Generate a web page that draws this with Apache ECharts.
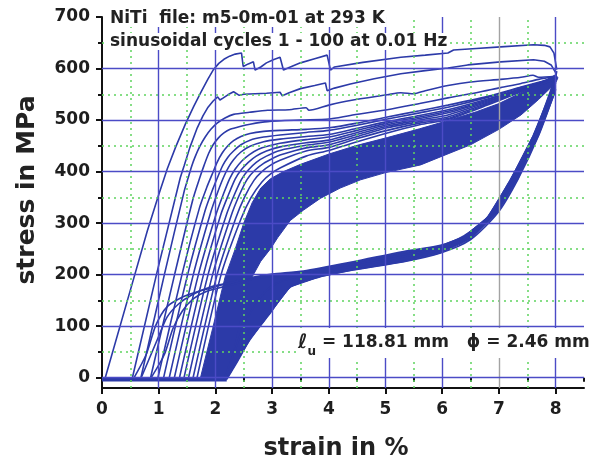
<!DOCTYPE html>
<html>
<head>
<meta charset="utf-8">
<script src="https://cdn.jsdelivr.net/npm/echarts@6/dist/echarts.min.js"></script>
<style>
  html, body { margin: 0; padding: 0; background: #fff; }
  #chart { width: 599px; height: 463px; }
</style>
</head>
<body>
<div id="chart"></div>
<script>
// Axis ticks and grid positions
const xTickValues = [0, 1, 2, 3, 4, 5, 6, 7, 8];
const xMinorTicks = [0.5, 1.5, 2.5, 3.5, 4.5, 5.5, 6.5, 7.5, 8.5];
const yTickValues = [0, 100, 200, 300, 400, 500, 600, 700];
const yMinorTicks = [50, 150, 250, 350, 450, 550, 650];
const xGridMajor = [1, 2, 3, 4, 5, 6, 7, 8];
const xGridMinor = [0.5, 1.5, 2.5, 3.5, 4.5, 5.5, 6.5, 7.5];
const yGridMajor = [0, 100, 200, 300, 400, 500, 600];
const yGridMinor = [50, 150, 250, 350, 450, 550, 650];

// Slack part of every cycle (stress ~0 while strain is low)
const slack = [[0, -4], [2.2, -4]];

// Loading branches (strain %, stress MPa), earliest cycles first
const load01 = [[0.05,-3],[0.5,170],[0.8,285],[1.0,355],[1.15,405],[1.3,448],[1.47,492],[1.62,527],[1.75,555],[1.87,580],[1.96,597],[2.06,610],[2.15,618],[2.25,624],[2.35,628],[2.46,630],[2.49,604],[2.58,609],[2.67,613],[2.7,597],[2.8,603],[2.9,611],[3.02,617],[3.14,622],[3.2,597],[3.3,602],[3.5,611],[3.75,619],[3.97,626],[4.03,597],[4.1,603],[4.6,612],[5.27,622],[5.7,626],[6.1,630],[6.2,636],[6.6,639],[7.03,642],[7.61,646],[7.8,645],[7.9,642],[7.97,630],[8.02,598]];
const load02 = [[0.53,-3],[0.96,200],[1.38,388],[1.45,412],[1.55,447],[1.68,485],[1.78,508],[1.87,525],[1.96,537],[2.04,545],[2.08,539],[2.14,543],[2.22,549],[2.32,555],[2.42,548],[2.5,550],[2.7,551],[2.9,552],[3.14,554],[3.18,547],[3.3,553],[3.5,561],[3.75,567],[3.94,572],[3.97,557],[4.1,562],[4.38,570],[4.8,580],[5.27,590],[5.7,596],[6.1,601],[6.45,607],[7.03,613],[7.61,617],[7.8,614],[7.92,607],[8.0,592]];
const load03 = [[0.68,-3],[1.1,200],[1.45,362],[1.52,388],[1.58,410],[1.64,428],[1.72,448],[1.82,467],[1.92,482],[2.03,494],[2.17,504],[2.32,511],[2.6,515],[2.92,519],[3.3,520],[3.6,524],[3.65,519],[4.0,529],[4.38,538],[5.03,549],[5.27,553],[5.5,551],[5.7,557],[6.1,567],[6.5,574],[7.03,579],[7.39,583],[7.6,587],[7.7,583],[8.0,585]];
const load04 = [[0.85,-3],[1.28,200],[1.6,345],[1.73,390],[1.8,412],[1.88,435],[1.96,452],[2.05,465],[2.15,475],[2.26,482],[2.45,488],[2.61,492],[2.92,497],[3.5,500],[4.0,502],[4.38,509],[5.03,520],[5.6,532],[6.1,543],[6.6,553],[7.03,563],[7.39,571],[7.7,579],[8.0,585]];
const load05 = [[0.98,-3],[1.41,200],[1.72,330],[1.85,370],[1.94,394],[2.03,418],[2.12,436],[2.22,450],[2.32,460],[2.45,468],[2.61,474],[2.85,478],[3.14,480],[3.6,482],[4.0,485],[4.5,494],[5.03,506],[5.6,518],[6.1,529],[6.8,546],[7.39,564],[7.75,575],[8.0,583]];
const load06 = [[1.08,-3],[1.51,200],[1.82,325],[1.95,365],[2.05,392],[2.13,412],[2.22,428],[2.32,440],[2.45,452],[2.61,461],[2.85,467],[3.14,471],[3.6,476],[4.0,480],[4.5,490],[5.03,502],[5.6,514],[6.1,525],[6.8,544],[7.39,563],[7.75,574],[8.0,583]];
const load07 = [[1.18,-3],[1.61,200],[1.92,322],[2.04,360],[2.14,388],[2.23,408],[2.32,423],[2.45,438],[2.61,449],[2.85,458],[3.14,463],[3.6,468],[4.0,472],[4.5,484],[5.03,497],[5.6,509],[6.1,520],[6.8,541],[7.39,561],[7.75,573],[8.0,582]];
const load08 = [[1.27,-3],[1.7,200],[2.02,320],[2.14,356],[2.25,386],[2.35,405],[2.47,421],[2.6,433],[2.75,443],[2.95,450],[3.14,455],[3.6,462],[4.0,467],[4.5,480],[5.03,494],[5.6,506],[6.1,517],[6.8,539],[7.39,560],[7.75,572],[8.0,582]];
const load09 = [[1.36,-3],[1.79,200],[2.1,318],[2.23,355],[2.35,386],[2.46,404],[2.58,418],[2.72,430],[2.9,440],[3.14,448],[3.6,456],[4.0,461],[4.5,476],[5.03,491],[5.6,503],[6.1,514],[6.8,537],[7.39,559],[7.75,572],[8.0,581]];
const load10 = [[1.44,-3],[1.87,200],[2.19,315],[2.33,354],[2.46,385],[2.58,403],[2.72,418],[2.9,430],[3.14,441],[3.6,451],[4.0,457],[4.5,472],[5.03,488],[5.6,500],[6.1,510],[6.8,535],[7.39,558],[7.75,571],[8.0,581]];
const load11 = [[1.52,-3],[1.95,200],[2.27,312],[2.42,354],[2.56,385],[2.7,403],[2.85,416],[3.0,425],[3.14,432],[3.6,446],[4.0,452],[4.5,468],[5.03,485],[5.6,497],[6.1,506],[6.8,533],[7.39,557],[7.75,570],[8.0,580]];
const load12 = [[1.6,-3],[2.03,200],[2.36,310],[2.52,352],[2.68,383],[2.82,400],[2.98,413],[3.14,422],[3.6,440],[4.0,447],[4.5,464],[5.03,480],[5.6,494],[6.1,503],[6.8,531],[7.39,556],[7.75,570],[8.0,580]];
const load13 = [[1.67,-3],[2.1,200],[2.45,308],[2.63,350],[2.82,380],[2.98,396],[3.14,407],[3.6,430],[4.0,441],[4.5,458],[5.03,475],[5.6,491],[6.1,501],[6.8,529],[7.39,555],[7.75,569],[8.0,580]];

// Unloading branches
const unload01 = [[8.02,595],[7.95,560],[7.6,468],[7.2,384],[6.8,312],[6.38,275],[5.97,257],[5.32,245],[4.43,225],[3.55,207],[3.0,201],[2.65,195],[2.3,186],[1.96,175],[1.68,167],[1.43,157],[1.15,138],[0.95,102],[0.78,45],[0.55,-3]];
const unload02 = [[8.0,585],[7.6,465],[7.22,380],[6.85,315],[6.4,274],[5.97,254],[5.32,242],[4.43,222],[3.55,205],[3.0,199],[2.65,193],[2.3,185],[1.91,176],[1.59,161],[1.35,143],[1.15,118],[0.98,75],[0.68,-3]];
const unload03 = [[8.0,582],[7.62,466],[7.24,380],[6.87,315],[6.42,272],[5.97,251],[5.32,239],[4.43,220],[3.55,204],[3.0,197],[2.6,190],[2.2,178],[1.85,168],[1.62,154],[1.42,130],[1.25,95],[1.1,45],[0.85,-3]];
const unloadMid = [[8.0,572],[7.65,470],[7.27,384],[6.9,316],[6.45,271],[5.97,249],[5.32,235],[4.43,216],[3.8,203],[3.3,192],[3.0,178],[2.75,150],[2.5,100],[2.3,40],[2.15,-3]];
const unloadLast = [[8.0,560],[7.7,470],[7.33,384],[6.98,320],[6.5,268],[5.97,242],[5.32,225],[4.43,209],[3.85,196],[3.32,176],[2.97,126],[2.61,74],[2.38,30],[2.2,-3]];

// Outlines of the densely overlapping later cycles
const loadingBand = [[1.73,-3],[1.95,95],[2.17,195],[2.35,250],[2.5,300],[2.65,340],[2.8,368],[2.97,386],[3.2,400],[3.5,414],[4.0,434],[4.5,451],[5.03,466],[5.6,483],[6.1,499],[6.6,516],[7.0,532],[7.39,553],[7.7,570],[8.0,588],[8.04,582],[8.0,572],[7.7,540],[7.39,510],[7.0,482],[6.5,452],[6.0,430],[5.62,413],[5.0,398],[4.56,384],[4.2,368],[3.85,348],[3.55,325],[3.32,305],[3.1,272],[2.97,250],[2.8,226],[2.65,196],[2.2,-3]];
const unloadingBand = [[2.6,192],[3.0,200],[3.55,206],[4.43,224],[5.32,244],[5.97,256],[6.38,274],[6.8,312],[7.2,384],[7.6,470],[8.0,578],[8.0,556],[7.7,470],[7.33,384],[6.98,320],[6.5,268],[5.97,242],[5.32,225],[4.43,209],[3.85,196],[3.32,176],[2.97,126],[2.61,74],[2.2,-3]];

const DATA_BLUE = '#2c3aa8';
const GRID_BLUE = '#4b4bc6';
const FONT = '"DejaVu Sans", sans-serif';

function curve(points, width, smooth) {
  return {
    type: 'line', data: points, symbol: 'none', showSymbol: false,
    smooth: smooth === undefined ? 0.25 : smooth, silent: true, z: 4,
    lineStyle: { color: DATA_BLUE, width: width || 1.6 }
  };
}

function band(points) {
  return {
    type: 'custom', coordinateSystem: 'cartesian2d', data: points, silent: true, z: 3,
    renderItem: function (params, api) {
      if (params.dataIndex !== 0) return null;
      return {
        type: 'polygon',
        shape: { points: points.map(function (p) { return api.coord(p); }) },
        style: { fill: DATA_BLUE, stroke: DATA_BLUE, lineWidth: 1 }
      };
    }
  };
}

const gridMinorSeries = {
  type: 'line', data: [], silent: true, z: 1,
  markLine: {
    silent: true, symbol: 'none', label: { show: false }, animation: false,
    lineStyle: { color: '#5fd35f', type: [2, 4], width: 1.5 },
    data: xGridMinor.map(function (v) { return { xAxis: v }; })
      .concat(yGridMinor.map(function (v) { return { yAxis: v }; }))
  }
};

const gridMajorSeries = {
  type: 'line', data: [], silent: true, z: 2,
  markLine: {
    silent: true, symbol: 'none', label: { show: false }, animation: false,
    lineStyle: { color: GRID_BLUE, type: 'solid', width: 1.4 },
    data: xGridMajor.map(function (v) {
      return v === 7 ? { xAxis: v, lineStyle: { color: '#a3a3a3', type: 'solid', width: 1.4 } } : { xAxis: v };
    }).concat(yGridMajor.map(function (v) { return { yAxis: v }; }))
  }
};

const series = [gridMinorSeries, gridMajorSeries,
  band(loadingBand), band(unloadingBand),
  curve(slack, 3.5, false),
  curve(load01, 1.6, false), curve(load02, 1.6, false), curve(load03), curve(load04), curve(load05),
  curve(load06), curve(load07), curve(load08), curve(load09), curve(load10),
  curve(load11), curve(load12), curve(load13),
  curve(unload01), curve(unload02), curve(unload03), curve(unloadMid), curve(unloadLast)
];

const axisLabelStyle = { fontFamily: FONT, fontWeight: 'bold', fontSize: 17, color: '#1e1e1e' };

const chart = echarts.init(document.getElementById('chart'), null, { renderer: 'canvas' });
chart.setOption({
  animation: false,
  backgroundColor: '#ffffff',
  grid: { left: 102, right: 15, top: 17, bottom: 75, containLabel: false },
  xAxis: [
    {
      type: 'value', min: 0, max: 8.5, position: 'bottom',
      axisLine: { show: true, onZero: false, lineStyle: { color: '#111', width: 2 } },
      axisTick: { show: true, customValues: xTickValues, length: 6, lineStyle: { color: '#111', width: 2 } },
      axisLabel: Object.assign({ customValues: xTickValues, margin: 13 }, axisLabelStyle),
      splitLine: { show: false }
    },
    {
      type: 'value', min: 0, max: 8.5, position: 'bottom',
      axisLine: { show: false },
      axisTick: { show: true, customValues: xMinorTicks, length: 4, lineStyle: { color: '#111', width: 2 } },
      axisLabel: { show: false },
      splitLine: { show: false }
    }
  ],
  yAxis: [
    {
      type: 'value', min: -20, max: 700, position: 'left',
      axisLine: { show: true, onZero: false, lineStyle: { color: '#111', width: 2 } },
      axisTick: { show: true, customValues: yTickValues, length: 6, lineStyle: { color: '#111', width: 2 } },
      axisLabel: Object.assign({ customValues: yTickValues, margin: 12 }, axisLabelStyle),
      splitLine: { show: false }
    },
    {
      type: 'value', min: -20, max: 700, position: 'left',
      axisLine: { show: false },
      axisTick: { show: true, customValues: yMinorTicks, length: 4, lineStyle: { color: '#111', width: 2 } },
      axisLabel: { show: false },
      splitLine: { show: false }
    }
  ],
  graphic: [
    {
      type: 'text', left: 108, top: 10, z: 100,
      style: { text: 'NiTi  file: m5-0m-01 at 293 K', font: 'bold 17px ' + FONT, fill: '#222',
               backgroundColor: '#fff', padding: [0, 2, 0, 2] }
    },
    {
      type: 'text', left: 108, top: 33, z: 100,
      style: { text: 'sinusoidal cycles 1 - 100 at 0.01 Hz', font: 'bold 17px ' + FONT, fill: '#222',
               backgroundColor: '#fff', padding: [0, 2, 0, 2] }
    },
    {
      type: 'text', left: 296, top: 328, z: 100,
      style: {
        text: '{l|ℓ}{u|u}{t| = 118.81 mm   ϕ = 2.46 mm}',
        backgroundColor: '#fff', padding: [0, 2, 0, 2],
        rich: {
          l: { font: 'italic bold 20px ' + FONT, fill: '#222', lineHeight: 30, verticalAlign: 'middle' },
          u: { font: 'bold 12px ' + FONT, fill: '#222', lineHeight: 10, verticalAlign: 'bottom' },
          t: { font: 'bold 17px ' + FONT, fill: '#222', lineHeight: 30, verticalAlign: 'middle' }
        }
      }
    },
    {
      type: 'text', x: 336, y: 449, z: 100,
      style: { text: 'strain in %', font: 'bold 24px ' + FONT, fill: '#222', align: 'center', verticalAlign: 'middle' }
    },
    {
      type: 'text', x: 27, y: 190, rotation: Math.PI / 2, z: 100,
      style: { text: 'stress in MPa', font: 'bold 25px ' + FONT, fill: '#222', align: 'center', verticalAlign: 'middle' }
    }
  ],
  series: series
});
</script>
</body>
</html>
